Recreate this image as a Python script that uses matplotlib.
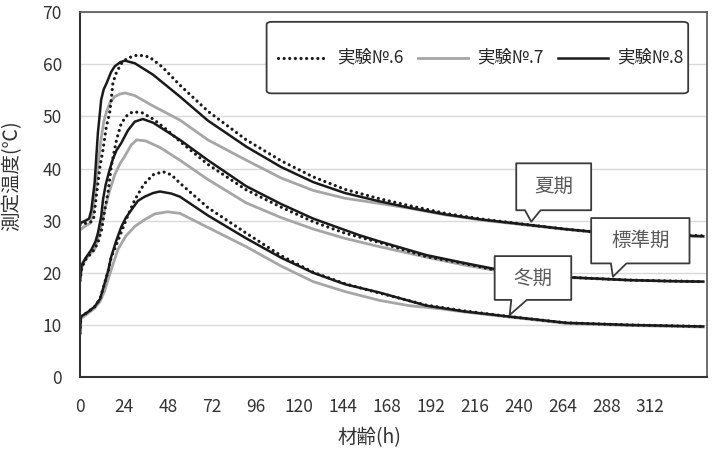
import matplotlib
matplotlib.use('Agg')
import matplotlib.pyplot as plt
from matplotlib.patches import Polygon, FancyBboxPatch

plt.rcParams['font.family'] = ['Noto Sans CJK JP', 'DejaVu Sans']

# --- summer (夏期) ---
t_sum6 = [0, 3, 6.4, 7.5, 9.8, 11, 12.6, 14.4, 16.2, 17.1, 18, 20, 22.8, 26, 31.7, 38, 45, 54.7,
          70, 91, 110, 127.6, 145, 164, 180, 200, 220, 248, 265, 280, 300, 320, 341]
y_sum6 = [29.2, 29.5, 29.8, 30.5, 37.2, 40.5, 43.6, 48, 50.6, 53.2, 56.4, 58.5, 60.2, 61.2, 61.8, 61.4,
          59.5, 56, 51, 45.5, 41.5, 38.4, 36, 34.2, 32.9, 31.4, 30.3, 29.1, 28.4, 27.9, 27.5, 27.3, 27.1]
t_sum7 = [0, 3, 5.5, 7, 8.5, 10, 11.5, 13, 14.6, 16.4, 19, 22, 24.6, 30, 40, 54.7, 70, 91, 110,
          127.6, 145, 164, 180, 200, 220, 248, 280, 341]
y_sum7 = [28.2, 29, 29.5, 31.5, 36, 41, 45.5, 49, 51, 52.6, 53.8, 54.3, 54.5, 54, 52, 49.3, 45.5,
          41.6, 38.2, 35.8, 34.3, 33.3, 32.4, 31.1, 30.1, 29.0, 27.8, 27.0]
t_sum8 = [0, 3, 5, 6.2, 8, 9.8, 11.6, 13, 14.6, 17, 19, 22, 24.6, 30, 40, 54.7, 70, 91, 110, 127.6,
          145, 164, 180, 200, 220, 248, 265, 280, 300, 320, 341]
y_sum8 = [29.5, 30, 30.4, 32, 37.2, 46.8, 53.2, 55.2, 56.4, 58.5, 59.6, 60.4, 60.7, 60.2, 58, 53.8,
          49.2, 44.2, 40.3, 37.4, 35.3, 33.7, 32.5, 31.2, 30.2, 29.1, 28.4, 27.9, 27.5, 27.2, 27.0]

# --- standard (標準期) ---
t_std6 = [0, 1, 3, 5.5, 8, 10, 12, 13.5, 15.3, 17.1, 20, 22.6, 26, 29, 34, 40, 48, 54.7, 70, 91,
          110, 127.6, 145, 164, 189.5, 210, 226, 250, 270, 300, 341]
y_std6 = [18.5, 21, 22.5, 23.5, 24.5, 26, 28.5, 32, 35.3, 40.4, 45.5, 48.7, 50.3, 50.9, 50.7, 49.5,
          47.3, 45.2, 40.8, 35.9, 32.6, 29.8, 27.6, 25.8, 23.1, 21.8, 20.6, 19.6, 19.1, 18.6, 18.3]
t_std7 = [0, 1, 3, 5.5, 8, 9.8, 11.6, 13.5, 16, 19, 22, 24.4, 28, 31, 36, 44, 54.7, 70, 91, 110,
          127.6, 145, 164, 189.5, 210, 230, 260, 300, 341]
y_std7 = [18.5, 21, 22.6, 23.6, 24.5, 26.5, 29, 32, 35.5, 38.8, 41, 42.3, 44.5, 45.5, 45.3, 44,
          41.6, 37.9, 33.4, 30.6, 28.4, 26.6, 25.0, 23.0, 21.5, 20.3, 19.2, 18.6, 18.3]
t_std8 = [0, 0.9, 3, 6.2, 8.5, 9.8, 11.6, 12.6, 14, 16, 18, 20, 22.6, 26.2, 30, 34.4, 40, 54.7,
          70, 91, 110, 127.6, 145, 153, 164, 189.5, 210, 226, 250, 269.5, 300, 320, 341]
y_std8 = [18.6, 21.5, 22.8, 24.4, 26, 27.6, 30.8, 34, 36.8, 39.5, 41.8, 43.5, 44.9, 47.3, 49, 49.5,
          48.8, 45.5, 41.6, 36.6, 33.2, 30.4, 28.2, 27.2, 26.0, 23.4, 21.9, 20.8, 19.7, 19.1, 18.6, 18.4, 18.3]

# --- winter (冬期) ---
t_win6 = [0, 0.5, 4.4, 8, 11, 13.5, 15.5, 17.1, 19, 22.6, 26.2, 30, 35, 40, 45.4, 50, 54.7, 70,
          91, 110, 127.6, 145, 164, 189.5, 210, 235, 266, 300, 341]
y_win6 = [8.4, 11.6, 12.5, 13.5, 15, 18, 20.5, 23, 24.6, 27.8, 31, 34, 37, 38.8, 39.4, 38.8, 37.2,
          32.5, 27.6, 23.3, 20.1, 17.9, 16.1, 13.8, 12.7, 11.6, 10.4, 10, 9.7]
t_win7 = [0, 0.5, 4.4, 8, 11, 13.5, 17, 20.8, 25, 30, 35.4, 41, 48, 54.7, 70, 91, 110, 127.6,
          145, 164, 180, 197, 210, 235, 266, 300, 341]
y_win7 = [8.4, 11.2, 12.2, 13.2, 14.5, 16.5, 20.5, 24.5, 27, 28.9, 30.2, 31.3, 31.7, 31.4, 28.7,
          25.0, 21.3, 18.3, 16.4, 14.7, 13.7, 13.1, 12.5, 11.5, 10.3, 9.9, 9.6]
t_win8 = [0, 0.5, 4.4, 8, 11, 13.5, 15.5, 17.1, 20, 22.6, 25, 28, 31.7, 35.4, 40, 43.7, 50, 54.7,
          70, 91, 110, 127.6, 145, 164, 189.5, 210, 235, 266, 300, 341]
y_win8 = [8.4, 11.6, 12.5, 13.5, 15, 18, 20.5, 23.1, 26.3, 28.8, 30.5, 32, 33.8, 34.6, 35.3,
          35.6, 35.2, 34.6, 31, 26.6, 22.9, 20.0, 17.8, 16.2, 13.7, 12.6, 11.6, 10.4, 10, 9.7]

legend_labels = ['実験№.6', '実験№.7', '実験№.8']
season_labels = ['夏期', '標準期', '冬期']

x_ticks = list(range(0, 313, 24))
y_ticks = list(range(0, 71, 10))

black = '#1a1a1a'
gray = '#a6a6a6'

fig = plt.figure(figsize=(7.14, 4.51), dpi=100)
ax = fig.add_axes([0.112, 0.164, 0.878, 0.809])

dot_style = dict(color=black, lw=2.3, ls=(0, (0.01, 1.75)), dash_capstyle='round')
gray_style = dict(color=gray, lw=2.0)
solid_style = dict(color=black, lw=1.8)
styles = [dot_style, gray_style, solid_style]

# gray first, then solid, dotted on top
ax.plot(t_sum7, y_sum7, **gray_style)
ax.plot(t_std7, y_std7, **gray_style)
ax.plot(t_win7, y_win7, **gray_style)
ax.plot(t_sum8, y_sum8, **solid_style)
ax.plot(t_std8, y_std8, **solid_style)
ax.plot(t_win8, y_win8, **solid_style)
ax.plot(t_sum6, y_sum6, **dot_style)
ax.plot(t_std6, y_std6, **dot_style)
ax.plot(t_win6, y_win6, **dot_style)

# legend box, drawn by hand in axes fractions
ax.add_patch(FancyBboxPatch((0.2977, 0.7775), 0.6725, 0.196, transform=ax.transAxes,
                            boxstyle='round,pad=0,rounding_size=0.008',
                            facecolor='white', edgecolor='#3a3a3a', lw=1.3, zorder=7))
handle_x = [0.3158, 0.5391, 0.7624]
for hx, st, lab in zip(handle_x, styles, legend_labels):
    ax.plot([hx, hx + 0.0797], [0.8753, 0.8753], transform=ax.transAxes, zorder=8, **st)
    ax.text(hx + 0.094, 0.8753, lab, transform=ax.transAxes, ha='left', va='center',
            fontsize=12.5, color='#262626', zorder=8)


def callout(x0, x1, y0, y1, base0, base1, tip, text):
    pts = [(x0, y0), (base0, y0), tip, (base1, y0), (x1, y0), (x1, y1), (x0, y1)]
    ax.add_patch(Polygon(pts, closed=True, facecolor='white', edgecolor='#3a3a3a',
                         lw=1.3, zorder=5, joinstyle='round'))
    ax.text((x0 + x1) / 2, (y0 + y1) / 2, text, ha='center', va='center',
            fontsize=14, color='#595959', zorder=6)


callout(238.7, 279.7, 32.0, 41.0, 243.5, 252.0, (246.9, 29.8), season_labels[0])
callout(279.7, 333.5, 21.8, 30.5, 290.5, 299.0, (291.6, 19.25), season_labels[1])
callout(226.9, 268.8, 14.8, 23.2, 236.0, 244.5, (235.1, 11.9), season_labels[2])

ax.set_xlim(0, 343)
ax.set_ylim(0, 70)
ax.set_xticks(x_ticks)
ax.set_yticks(y_ticks)
ax.tick_params(length=0, labelsize=12.5, colors='#333333')
ax.tick_params(axis='x', pad=15)
ax.tick_params(axis='y', pad=13)
ax.grid(axis='y', color='#d9d9d9', lw=1.0)
ax.set_axisbelow(True)
for s in ['top', 'right']:
    ax.spines[s].set_color('#555555')
    ax.spines[s].set_linewidth(1.2)
for s in ['left', 'bottom']:
    ax.spines[s].set_color('#333333')
    ax.spines[s].set_linewidth(1.5)

ax.set_xlabel('材齢(h)', fontsize=14, color='#333333')
ax.set_ylabel('測定温度(℃)', fontsize=14, color='#333333')
ax.xaxis.set_label_coords(0.4625, -0.138)
ax.yaxis.set_label_coords(-0.0925, 0.551)

fig.savefig('out.png', dpi=100)
